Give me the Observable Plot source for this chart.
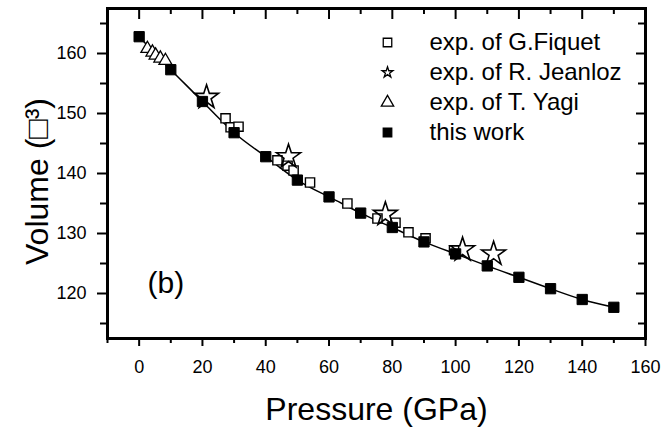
<!DOCTYPE html>
<html><head><meta charset="utf-8">
<script src="https://cdn.jsdelivr.net/npm/d3@7"></script>
<script src="https://cdn.jsdelivr.net/npm/@observablehq/plot@0.6"></script>
<style>body{margin:0;background:#fff} svg{display:block}</style>
</head><body><div id="chart"></div>
<script>
// Data
const thisWorkP = [0, 10, 20, 30, 40, 50, 60, 70, 80, 90, 100, 110, 120, 130, 140, 150];
const thisWorkV = [162.8, 157.3, 152.0, 146.8, 142.8, 138.9, 136.1, 133.4, 131.0, 128.6, 126.6, 124.6, 122.7, 120.8, 119.0, 117.7];
const fiquetP = [27.3, 28.9, 31.4, 43.7, 46.9, 48.8, 54.0, 65.8, 75.3, 81.0, 85.1, 90.5, 99.5];
const fiquetV = [149.2, 147.7, 147.8, 142.2, 141.3, 140.5, 138.5, 135.0, 132.5, 131.8, 130.2, 129.2, 127.2];
const jeanlozP = [21.3, 47.2, 77.8, 102.2, 112.0];
const jeanlozV = [152.7, 142.8, 133.2, 127.3, 126.6];
const yagiP = [2.6, 4.2, 5.2, 6.7, 8.3];
const yagiV = [160.8, 160.2, 159.7, 159.2, 158.8];

const xMajor = [0, 20, 40, 60, 80, 100, 120, 140, 160];
const xMinor = [-10, 10, 30, 50, 70, 90, 110, 130, 150];
const yMajor = [120, 130, 140, 150, 160];
const yMinor = [115, 125, 135, 145, 155, 165];

const seriesNames = ["exp. of G.Fiquet", "exp. of R. Jeanloz", "exp. of T. Yagi", "this work"];
const xTitle = "Pressure (GPa)";
const yTitle = "Volume (\u25A1\u00B3)";
const panelLabel = "(b)";

const toPts = (P, V) => P.map((p, i) => ({p, v: V[i]}));
const thisWork = toPts(thisWorkP, thisWorkV);
const fiquet = toPts(fiquetP, fiquetV);
const jeanloz = toPts(jeanlozP, jeanlozV);
const yagi = toPts(yagiP, yagiV);

const legend = [
  {name: seriesNames[0], symbol: "square", fill: "white", r: 4.8},
  {name: seriesNames[1], symbol: "star", fill: "white", r: 3.4},
  {name: seriesNames[2], symbol: "triangle", fill: "white", r: 4.6},
  {name: seriesNames[3], symbol: "square", fill: "black", r: 4.8}
];

const W = 664, H = 427, mL = 107, mR = 19, mT = 8, mB = 89;
const fw = W - mL - mR, fh = H - mT - mB;
const xDom = [-10, 160], yDom = [112.5, 167.5];
// pixel tick lengths converted to data units for the inward top/right ticks
const pxY = (yDom[1] - yDom[0]) / fh, pxX = (xDom[1] - xDom[0]) / fw;

const font = "'Liberation Sans', Arial, Helvetica, sans-serif";
const legendMarks = legend.flatMap((e, i) => [
  Plot.dot([e], {frameAnchor: "top-left", dx: 280, dy: 34 + 30 * i, symbol: "symbol", r: e.r, fill: e.fill, stroke: "black", strokeWidth: 1.3}),
  Plot.text([e], {frameAnchor: "top-left", dx: 322, dy: 34 + 30 * i, text: "name", textAnchor: "start", lineAnchor: "middle", fontSize: 24, fill: "black"})
]);

const chart = Plot.plot({
  width: W, height: H,
  marginLeft: mL, marginRight: mR, marginTop: mT, marginBottom: mB,
  style: {fontFamily: font, background: "white", color: "black"},
  x: {domain: xDom},
  y: {domain: yDom},
  marks: [
    Plot.axisX({ticks: xMajor, tickSize: 8, tickPadding: 14, fontSize: 18, strokeWidth: 2, label: null}),
    Plot.axisX({ticks: xMinor, tickSize: 5, text: null, strokeWidth: 2, label: null}),
    Plot.axisY({ticks: yMajor, tickSize: 10, tickPadding: 11, fontSize: 18, strokeWidth: 2, label: null}),
    Plot.axisY({ticks: yMinor, tickSize: 7, text: null, strokeWidth: 2, label: null}),
    // inward ticks on top and right edges
    Plot.ruleX(xMajor, {x: d => d, y1: yDom[1], y2: yDom[1] - 11 * pxY, stroke: "black", strokeWidth: 2}),
    Plot.ruleX(xMinor, {x: d => d, y1: yDom[1], y2: yDom[1] - 6 * pxY, stroke: "black", strokeWidth: 2}),
    Plot.ruleY(yMajor, {y: d => d, x1: xDom[1], x2: xDom[1] - 9 * pxX, stroke: "black", strokeWidth: 2}),
    Plot.ruleY(yMinor, {y: d => d, x1: xDom[1], x2: xDom[1] - 7 * pxX, stroke: "black", strokeWidth: 2}),
    Plot.frame({stroke: "black", strokeWidth: 3}),
    Plot.line(thisWork, {x: "p", y: "v", curve: "natural", stroke: "black", strokeWidth: 1.5}),
    Plot.dot(fiquet, {x: "p", y: "v", symbol: "square", r: 5.2, fill: "white", stroke: "black", strokeWidth: 1.4}),
    Plot.dot(yagi, {x: "p", y: "v", symbol: "triangle", r: 4.8, fill: "white", stroke: "black", strokeWidth: 1.3}),
    Plot.dot(thisWork, {x: "p", y: "v", symbol: "square", r: 5.8, fill: "black", stroke: "black", strokeWidth: 1}),
    Plot.dot(jeanloz, {x: "p", y: "v", symbol: "star", r: 7.5, fill: "white", fillOpacity: 0, stroke: "black", strokeWidth: 1.6}),
    ...legendMarks,
    Plot.text([panelLabel], {frameAnchor: "bottom-left", dx: 40, dy: -46, textAnchor: "start", lineAnchor: "bottom", fontSize: 30, fill: "black"}),
    Plot.text([xTitle], {frameAnchor: "bottom", dy: 81, textAnchor: "middle", lineAnchor: "bottom", fontSize: 32, fill: "black"}),
    Plot.text([yTitle], {frameAnchor: "left", dx: -60, dy: 8, rotate: -90, textAnchor: "middle", lineAnchor: "bottom", fontSize: 32, fill: "black"})
  ]
});
document.getElementById("chart").appendChild(chart);
</script>
</body></html>
